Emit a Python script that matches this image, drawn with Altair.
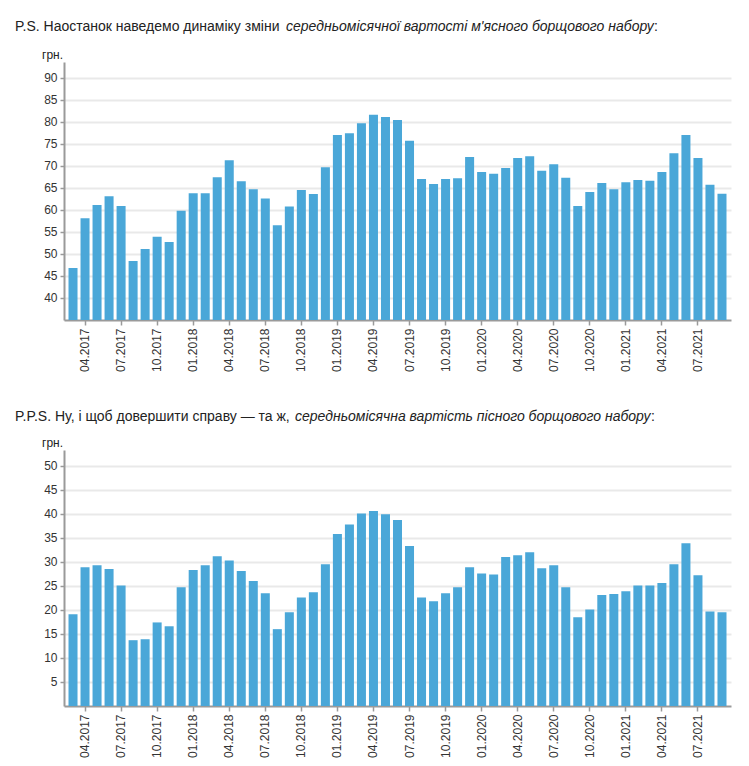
import altair as alt
import pandas as pd

# Months 03.2017 .. 09.2021
months = []
y, m = 2017, 3
while (y, m) <= (2021, 9):
    months.append(f"{m:02d}.{y}")
    m += 1
    if m > 12:
        m = 1
        y += 1

tick_labels = [mo for mo in months if int(mo[:2]) in (1, 4, 7, 10)]

meat_values = [
    46.8, 58.1, 61.1, 63.1, 60.9, 48.4, 51.1, 53.9, 52.7, 59.8,
    63.8, 63.8, 67.4, 71.3, 66.5, 64.7, 62.6, 56.5, 60.8, 64.5, 63.6, 69.7,
    77.0, 77.4, 79.7, 81.6, 81.1, 80.4, 75.7, 67.0, 65.9, 67.0, 67.2, 72.0,
    68.6, 68.2, 69.5, 71.8, 72.2, 68.9, 70.4, 67.3, 60.9, 64.1, 66.1, 64.7,
    66.3, 66.8, 66.6, 68.6, 72.9, 77.0, 71.8, 65.7, 63.7,
]

lean_values = [
    19.1, 28.9, 29.3, 28.5, 25.1, 13.7, 13.9, 17.4, 16.6, 24.7,
    28.3, 29.3, 31.2, 30.3, 28.1, 26.0, 23.5, 16.0, 19.5, 22.6, 23.7, 29.5,
    35.8, 37.8, 40.1, 40.6, 39.9, 38.7, 33.3, 22.6, 21.8, 23.5, 24.7, 28.9,
    27.6, 27.4, 31.0, 31.4, 32.0, 28.7, 29.3, 24.7, 18.5, 20.1, 23.1, 23.3,
    23.9, 25.1, 25.1, 25.6, 29.5, 33.9, 27.2, 19.7, 19.5,
]

title1_plain = "P.S. Наостанок наведемо динаміку зміни "
title1_italic = "середньомісячної вартості м'ясного борщового набору"
title2_plain = "P.P.S. Ну, і щоб довершити справу — та ж, "
title2_italic = "середньомісячна вартість пісного борщового набору"

FONT = "Liberation Sans"
BAR = "#4AA7D8"
AX = "#9a9a9a"
TXT = "#333333"
W = 667


def panel(values, domain, yticks, height, title_plain, title_italic, italic_x, colon_x, title_y):
    df = pd.DataFrame({"month": months, "value": values})
    bars = alt.Chart(df).mark_bar(color=BAR, clip=True).encode(
        x=alt.X(
            "month:N",
            sort=months,
            scale=alt.Scale(paddingInner=0.25, paddingOuter=0.375),
            axis=alt.Axis(
                values=tick_labels,
                labelAngle=-90,
                title=None,
                labelFont=FONT,
                labelFontSize=12,
                labelColor=TXT,
                labelPadding=3,
                tickSize=5,
                tickColor=AX,
                tickWidth=1.5,
                domainColor=AX,
                domainWidth=2,
                grid=False,
            ),
        ),
        y=alt.Y(
            "value:Q",
            scale=alt.Scale(domain=domain, nice=False, zero=False),
            axis=alt.Axis(
                values=yticks,
                title=None,
                labelFont=FONT,
                labelFontSize=12,
                labelColor=TXT,
                labelPadding=3,
                tickSize=4,
                tickColor=AX,
                tickWidth=1.5,
                domainColor=AX,
                domainWidth=2,
                gridColor="#e9e9e9",
                gridWidth=2,
            ),
        ),
    )

    def txt(s, x, yv, italic=False, size=14, align="left"):
        kw = dict(align=align, baseline="middle", font=FONT, fontSize=size, color="#222222")
        if italic:
            kw["fontStyle"] = "italic"
        return alt.Chart(pd.DataFrame({"t": [s]})).mark_text(**kw).encode(
            x=alt.value(x), y=alt.value(yv), text="t:N"
        )

    layers = [
        bars,
        txt(title_plain, -49, title_y),
        txt(title_italic, italic_x, title_y, italic=True),
        txt(":", colon_x, title_y),
        txt("грн.", -22, -7, size=12),
    ]
    return alt.layer(*layers).properties(width=W, height=height)


top = panel(meat_values, [35, 93.6], list(range(40, 91, 5)), 258,
            title1_plain, title1_italic, 222, 590, -35)
bottom = panel(lean_values, [0, 53.3], list(range(5, 51, 5)), 256,
               title2_plain, title2_italic, 231, 587, -33)

chart = alt.vconcat(top, bottom, spacing=130, bounds="flush").properties(
    padding={"left": 7, "top": 12, "right": 5, "bottom": 5}
).configure_view(stroke=None)

chart.save("out.html", embed_options={"renderer": "svg", "actions": False})
